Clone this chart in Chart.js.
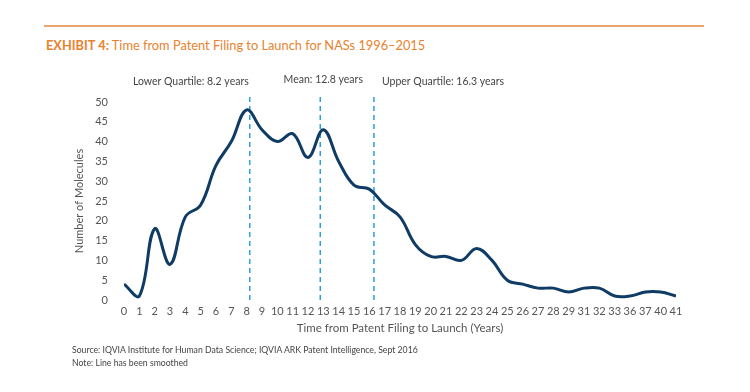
<!DOCTYPE html>
<html>
<head>
<meta charset="utf-8">
<script src="https://cdn.jsdelivr.net/npm/chart.js@4"></script>
<style>
  html, body { margin: 0; padding: 0; background: #fff; }
  body { width: 750px; height: 392px; position: relative; overflow: hidden; font-family: Lato, 'Open Sans', sans-serif; }
  .rule { position: absolute; left: 44px; top: 25px; width: 660px; height: 2px; background: #eaa672; }
  .title { position: absolute; left: 46px; top: 37px; font-size: 12.8px; color: #e8822e; white-space: nowrap; }
  .title b { font-weight: 700; }
  .source { position: absolute; left: 72px; top: 344px; font-size: 8.7px; color: #444; white-space: nowrap; }
  .note { position: absolute; left: 72px; top: 357px; font-size: 8.7px; color: #444; white-space: nowrap; }
  #wrap { position: absolute; left: 0; top: 0; width: 750px; height: 392px; }
</style>
</head>
<body>
<div class="rule"></div>
<div class="title"><b>EXHIBIT 4:</b> Time from Patent Filing to Launch for NASs 1996–2015</div>
<div id="wrap"><canvas id="chart" width="750" height="392"></canvas></div>
<div class="source">Source: IQVIA Institute for Human Data Science; IQVIA ARK Patent Intelligence, Sept 2016</div>
<div class="note">Note: Line has been smoothed</div>
<script>
// years from filing to launch (axis categories, note the gaps after 29 and 33)
const years = ['0','1','2','3','4','5','6','7','8','9','10','11','12','13','14','15','16','17','18','19','20',
  '21','22','23','24','25','26','27','28','29','31','32','33','36','37','40','41']
// number of molecules
const molecules = [4, 1, 18, 9, 21, 24, 34, 40, 48, 43, 40, 42, 36, 43, 35, 29, 28, 24, 21, 14, 11,
  11, 10, 13, 10, 5, 4, 3, 3, 2, 3, 3, 1, 1, 2, 2, 1]
const yTicks = [0, 5, 10, 15, 20, 25, 30, 35, 40, 45, 50]
const markerYears = [8.2, 12.8, 16.3]
const markerLabels = ['Lower Quartile: 8.2 years', 'Mean: 12.8 years', 'Upper Quartile: 16.3 years']
const markerAlign = ['right', 'center', 'left']

const textColor = '#555'
const lineColor = '#0e3c65'
const dashColor = '#2d9fd8'
const fontFamily = "Lato, 'Open Sans', sans-serif"

const markerSets = markerYears.map(v => ({
  data: [{ x: v, y: 0 }, { x: v, y: 51.3 }],
  borderColor: dashColor, borderWidth: 1.5, borderDash: [5, 4],
  pointRadius: 0, tension: 0, clip: false
}))

// labels above the dashed quartile/mean lines
const markerText = {
  id: 'markerText',
  afterDatasetsDraw(chart) {
    const { ctx, scales: { x } } = chart
    ctx.save()
    ctx.font = '10.5px ' + fontFamily
    ctx.fillStyle = '#444'
    ctx.textBaseline = 'middle'
    markerYears.forEach((v, i) => {
      const px = x.getPixelForValue(v)
      const align = markerAlign[i]
      ctx.textAlign = align
      const dx = align === 'right' ? -1 : align === 'left' ? 8 : 3
      ctx.fillText(markerLabels[i], px + dx, i === 1 ? 80 : 82)
    })
    ctx.restore()
  }
}

new Chart(document.getElementById('chart').getContext('2d'), {
  type: 'line',
  data: {
    datasets: [{
      data: molecules.map((m, i) => ({ x: i, y: m })),
      borderColor: lineColor, borderWidth: 3,
      pointRadius: 0, tension: 0.4, fill: false
    }].concat(markerSets)
  },
  options: {
    responsive: false, animation: false,
    layout: { padding: { left: 66, right: 74, top: 102, bottom: 47 } },
    scales: {
      x: {
        type: 'linear', min: 0, max: years.length - 1,
        grid: { display: false, drawTicks: false }, border: { display: false },
        ticks: {
          stepSize: 1, autoSkip: false, maxRotation: 0, padding: 5,
          color: textColor, font: { family: fontFamily, size: 11 },
          callback: v => years[v]
        },
        title: {
          display: true, text: 'Time from Patent Filing to Launch (Years)',
          color: textColor, font: { family: fontFamily, size: 11.5 },
          padding: { top: 2, bottom: 10 }
        },
        afterFit: s => { s.height = 45 }
      },
      y: {
        min: 0, max: 50,
        grid: { display: false, drawTicks: false }, border: { display: false },
        afterBuildTicks: s => { s.ticks = yTicks.map(v => ({ value: v })) },
        ticks: { padding: 16, color: textColor, font: { family: fontFamily, size: 11 } },
        title: {
          display: true, text: 'Number of Molecules',
          color: textColor, font: { family: fontFamily, size: 11 },
          padding: { top: 7, bottom: 0 }
        },
        afterFit: s => { s.width = 58 }
      }
    },
    plugins: { legend: { display: false }, tooltip: { enabled: false } }
  },
  plugins: [markerText]
})
</script>
</body>
</html>
